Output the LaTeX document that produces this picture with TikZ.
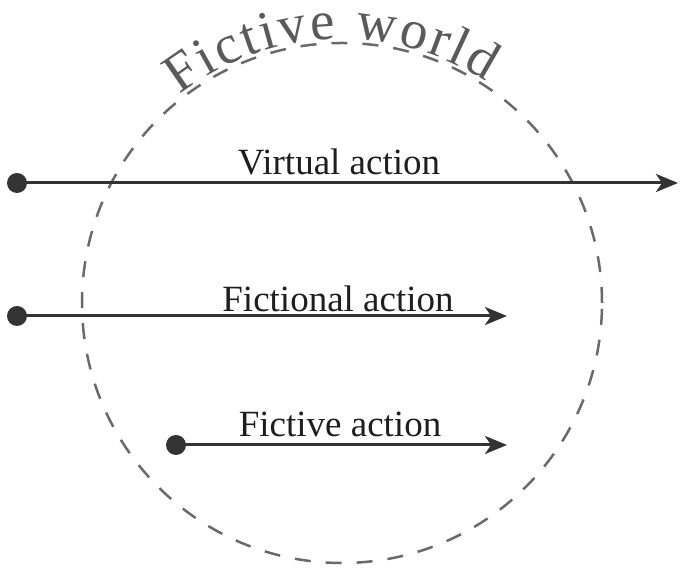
\documentclass[tikz,border=0pt]{standalone}
\usepackage{fontspec}
\setmainfont{Liberation Serif}
\usetikzlibrary{arrows.meta,decorations.text}
\definecolor{linec}{HTML}{333333}
\definecolor{circc}{HTML}{6a6a6a}
\definecolor{worldc}{HTML}{5a5a5a}
\definecolor{textc}{HTML}{1e1e1e}
\tikzset{
  dotnode/.style={circle,fill=linec,inner sep=0pt,minimum size=20pt},
  arr/.style={draw=linec,line width=3pt,-{Stealth[length=22pt,width=18pt,inset=6pt]}},
  lab/.style={anchor=base,inner sep=0pt,text=textc,font=\fontsize{37}{40}\selectfont},
  worldcirc/.style={circle,draw=circc,line width=2.5pt,dash pattern=on 16pt off 15pt,minimum size=520pt,inner sep=0pt}
}
\begin{document}
\begin{tikzpicture}[x=1pt,y=1pt]
\useasboundingbox (0,0) rectangle (685,572);
\node[worldcirc] (world) at (342,269) {};
\path[decorate,decoration={text along path,
  text={|\fontsize{55}{55}\selectfont|Fictive world},
  text align=fit to path, text color=worldc}]
  (342,269) ++(128:264) arc[start angle=128,end angle=57,radius=264];
% virtual action
\node[dotnode] (v0) at (17,389) {};
\coordinate (v1) at (678,389);
\draw[arr] (v0.center) -- (v1);
\node[lab] (vl) at (339,397) {Virtual action};
% fictional action
\node[dotnode] (f0) at (17,256) {};
\coordinate (f1) at (507,256);
\draw[arr] (f0.center) -- (f1);
\node[lab] (fl) at (338,260) {Fictional action};
% fictive action
\node[dotnode] (c0) at (176,127) {};
\coordinate (c1) at (507,127);
\draw[arr] (c0.center) -- (c1);
\node[lab] (cl) at (340,135) {Fictive action};
\end{tikzpicture}
\end{document}
